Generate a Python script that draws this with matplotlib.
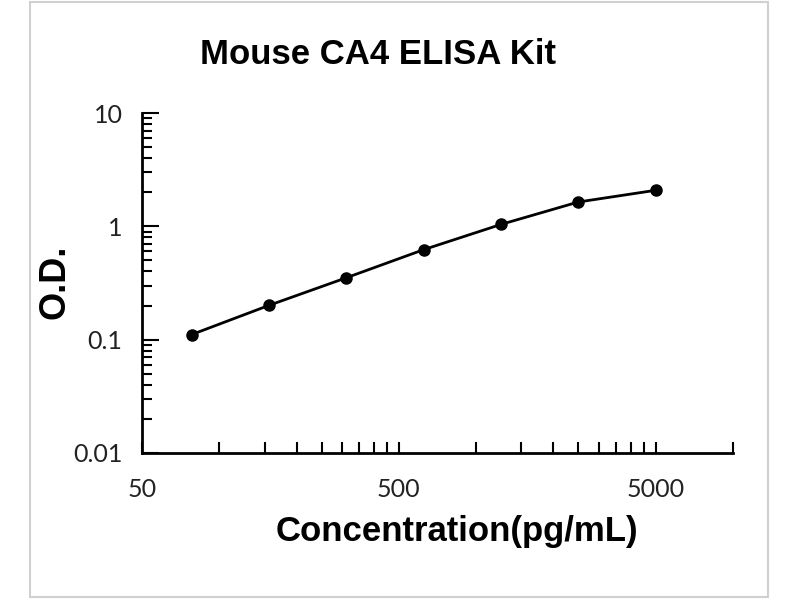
import matplotlib
matplotlib.use("Agg")
import matplotlib.pyplot as plt
from matplotlib.ticker import FixedLocator, NullFormatter, LogLocator
from matplotlib.patches import Rectangle

# Data
concentration = [78.125, 156.25, 312.5, 625, 1250, 2500, 5000]
od = [0.111, 0.201, 0.352, 0.623, 1.04, 1.64, 2.08]
x_ticks = [50, 500, 5000]
x_ticklabels = ["50", "500", "5000"]
y_ticks = [0.01, 0.1, 1, 10]
y_ticklabels = ["0.01", "0.1", "1", "10"]
title = "Mouse CA4 ELISA Kit"
xlabel = "Concentration(pg/mL)"
ylabel = "O.D."

W, H = 800, 600
fig = plt.figure(figsize=(8, 6), dpi=100)
fig.patch.set_facecolor("white")

# light grey outer frame
fig.patches.append(Rectangle((30 / W, 1 - 597 / H), (768 - 30) / W, (597 - 2) / H,
                             transform=fig.transFigure, fill=False,
                             edgecolor="#d0d0d0", linewidth=1.5))

ax = fig.add_axes([142 / W, 1 - 453 / H, (733 - 142) / W, (453 - 113) / H])
ax.set_xscale("log")
ax.set_yscale("log")
ax.set_xlim(50, 10000)
ax.set_ylim(0.01, 10)

ax.plot(concentration, od, color="black", linewidth=2, marker="o",
        markersize=8, markerfacecolor="black", markeredgecolor="black")

for s in ["top", "right"]:
    ax.spines[s].set_visible(False)
for s in ["left", "bottom"]:
    ax.spines[s].set_linewidth(2)

minor_x = []
for base in x_ticks:
    for k in range(2, 10):
        v = base * k
        if v < 10000 + 1:
            minor_x.append(v)
ax.xaxis.set_major_locator(FixedLocator(x_ticks))
ax.xaxis.set_minor_locator(FixedLocator(minor_x))
ax.xaxis.set_minor_formatter(NullFormatter())
ax.set_xticklabels(x_ticklabels)

ax.yaxis.set_major_locator(FixedLocator(y_ticks))
ax.yaxis.set_minor_locator(LogLocator(base=10, subs=range(2, 10)))
ax.yaxis.set_minor_formatter(NullFormatter())
ax.set_yticklabels(y_ticklabels)

for lab in ax.get_xticklabels() + ax.get_yticklabels():
    lab.set_fontfamily(["Lato", "DejaVu Sans"])
    lab.set_fontsize(18)
    lab.set_color("#222222")

ax.tick_params(axis="x", which="both", direction="in", length=8, width=1.5, pad=18)
ax.tick_params(axis="y", which="major", direction="in", length=12, width=1.5, pad=14)
ax.tick_params(axis="y", which="minor", direction="in", length=7, width=1.5)

ax.set_xlabel(xlabel, fontsize=25, fontweight="bold", family=["Liberation Sans", "DejaVu Sans"])
ax.xaxis.set_label_coords((457 - 142) / (733 - 142), -(515 - 453) / 340)
ax.set_ylabel(ylabel, fontsize=26, fontweight="bold", family=["Liberation Sans", "DejaVu Sans"])
ax.yaxis.set_label_coords((72 - 142) / (733 - 142), 0.5 - (282 - 283) / 340)

fig.text(378 / W, 1 - 55 / H, title, ha="center", va="center", fontsize=25,
         fontweight="bold", family=["Liberation Sans", "DejaVu Sans"])

fig.savefig("out.png", dpi=100)
